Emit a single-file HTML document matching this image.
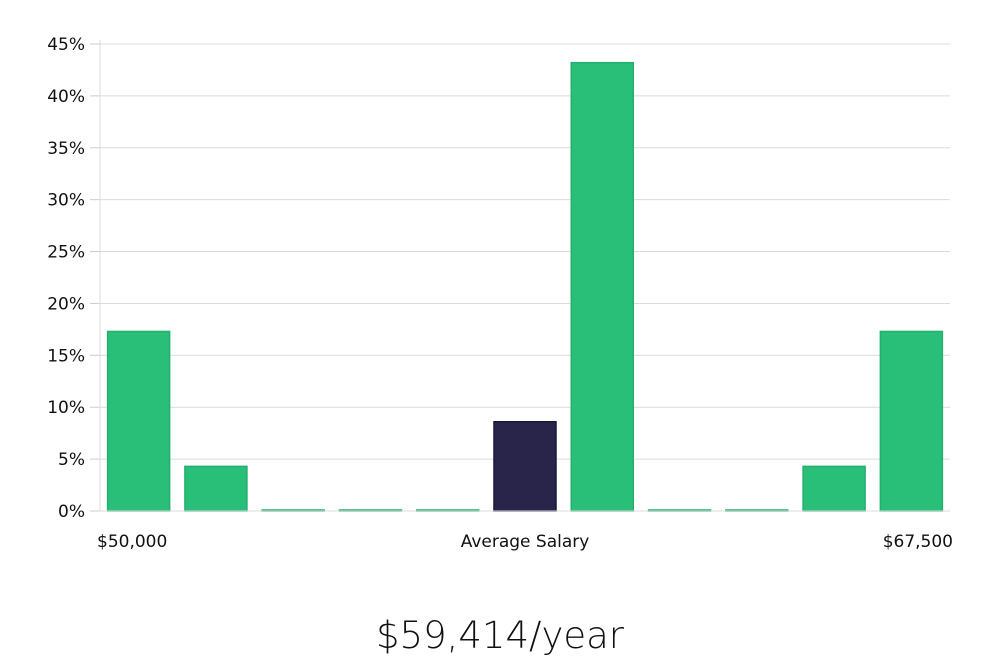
<!DOCTYPE html>
<html><head><meta charset="utf-8"><style>
html,body{margin:0;padding:0;background:#fff;width:1000px;height:660px;overflow:hidden}
svg text{font-family:"DejaVu Sans","Liberation Sans",sans-serif;fill:#111}
</style></head><body>
<svg id="chart" width="1000" height="660" viewBox="0 0 1000 660" xmlns="http://www.w3.org/2000/svg">
<g id="grid"></g>
<g id="yaxis"></g>
<g id="bars"></g>
<g id="xaxis"></g>
<text x="500" y="648" text-anchor="middle" font-size="37" style="font-weight:200">$59,414/year</text>
</svg>
<script>
const categories = ["b1","b2","b3","b4","b5","b6","b7","b8","b9","b10","b11"];
const values = [17.3, 4.3, 0, 0, 0, 8.6, 43.2, 0, 0, 4.3, 17.3];
const highlightIndex = 5;
const yTicks = [0,5,10,15,20,25,30,35,40,45];
const yTickLabels = ["0%","5%","10%","15%","20%","25%","30%","35%","40%","45%"];
const xLabels = ["$50,000","Average Salary","$67,500"];

const NS="http://www.w3.org/2000/svg";
const L=100,R=950,T=44,B=511,yMax=45;
const y=v=>B-(v/yMax)*(B-T);
const step=(R-L)/categories.length;
const bw=62;
const x=i=>L+step*(i+0.5);
function mk(tag,attrs,parent){const e=document.createElementNS(NS,tag);for(const k in attrs)e.setAttribute(k,attrs[k]);parent.appendChild(e);return e;}
const grid=document.getElementById('grid'),ya=document.getElementById('yaxis'),bars=document.getElementById('bars'),xa=document.getElementById('xaxis');
yTicks.forEach((t,i)=>{
  if(t>0){const g=mk('line',{x1:L,x2:R,y1:y(t),y2:y(t),stroke:'#dcdcdc','stroke-width':1},grid);
  
  }
  const tk=mk('line',{x1:90,x2:L,y1:y(t),y2:y(t),stroke:'#ccc','stroke-width':1},ya);
  
  
  const tx=mk('text',{x:85,y:y(t)+6,'text-anchor':'end','font-size':17},ya);
  tx.textContent=yTickLabels[i];
  
  
});
const ax=mk('line',{x1:L,x2:L,y1:40,y2:B,stroke:'#ddd','stroke-width':1},ya);


const bx=mk('line',{x1:L,x2:R,y1:B,y2:B,stroke:'#ddd','stroke-width':1},xa);


values.forEach((v,i)=>{
  const h=Math.max(B-y(v),1);
  const hi=i===highlightIndex;
  const r=mk('rect',{x:x(i)-bw/2,y:B-h,width:bw,height:h,fill:hi?'#29254a':'#2abf78',stroke:hi?'#1b1838':'#22b06c','stroke-width':1.5},bars);
  
  
});
const xl=[[97,'start'],[525,'middle'],[953,'end']];
xLabels.forEach((s,i)=>{
  const t=mk('text',{x:xl[i][0],y:547,'text-anchor':xl[i][1],'font-size':17},xa);
  t.textContent=s;
  
  
});
</script>
</body></html>
